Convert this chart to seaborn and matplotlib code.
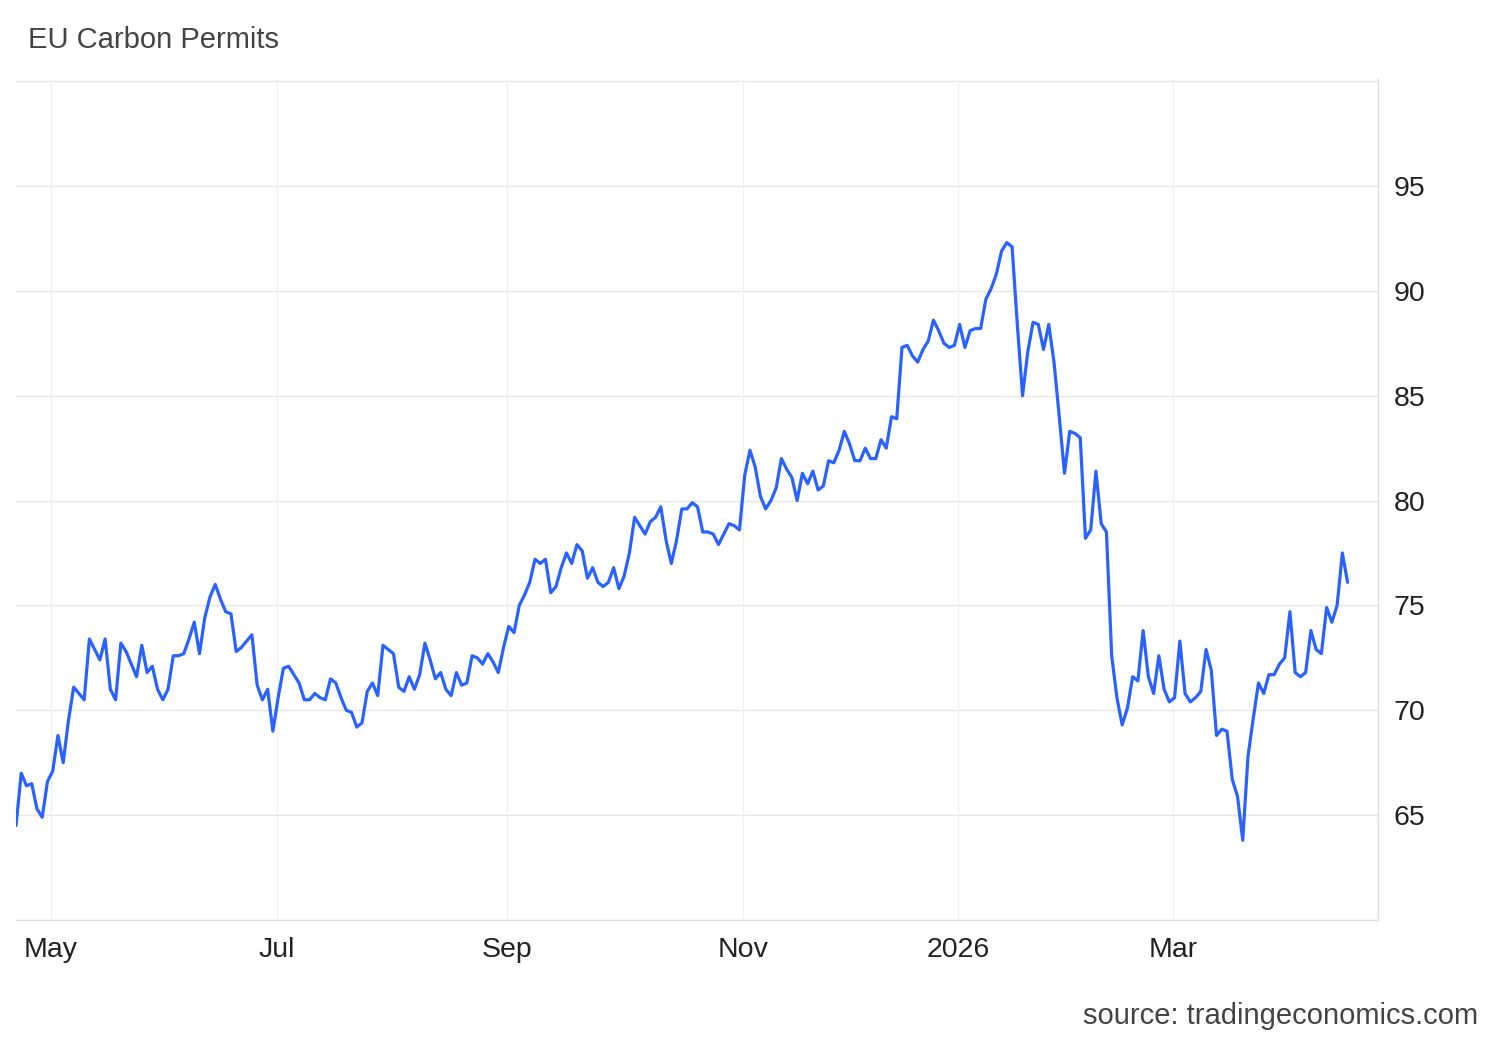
import pandas as pd
import matplotlib.pyplot as plt
import seaborn as sns

# Daily closes (trading days)
start_date = "2025-04-22"
holidays = ["2025-12-25", "2025-12-26", "2026-01-01", "2026-04-03", "2026-04-06"]
prices = [
    64.5, 67.0, 66.4, 66.5, 65.3, 64.9, 66.6, 67.1, 68.8, 67.5,
    69.5, 71.1, 70.8, 70.5, 73.4, 72.9, 72.4, 73.4, 71.0, 70.5,
    73.2, 72.8, 72.2, 71.6, 73.1, 71.8, 72.1, 71.0, 70.5, 71.0,
    72.6, 72.6, 72.7, 73.4, 74.2, 72.7, 74.4, 75.4, 76.0, 75.3,
    74.7, 74.6, 72.8, 73.0, 73.3, 73.6, 71.2, 70.5, 71.0, 69.0,
    70.6, 72.0, 72.1, 71.7, 71.3, 70.5, 70.5, 70.8, 70.6, 70.5,
    71.5, 71.3, 70.6, 70.0, 69.9, 69.2, 69.4, 70.9, 71.3, 70.7,
    73.1, 72.9, 72.7, 71.1, 70.9, 71.6, 71.0, 71.7, 73.2, 72.4,
    71.5, 71.8, 71.0, 70.7, 71.8, 71.2, 71.3, 72.6, 72.5, 72.2,
    72.7, 72.3, 71.8, 73.0, 74.0, 73.7, 75.0, 75.5, 76.1, 77.2,
    77.0, 77.2, 75.6, 75.9, 76.8, 77.5, 77.0, 77.9, 77.6, 76.3,
    76.8, 76.1, 75.9, 76.1, 76.8, 75.8, 76.4, 77.5, 79.2, 78.8,
    78.4, 79.0, 79.2, 79.7, 78.1, 77.0, 78.1, 79.6, 79.6, 79.9,
    79.7, 78.5, 78.5, 78.4, 77.9, 78.4, 78.9, 78.8, 78.6, 81.2,
    82.4, 81.6, 80.2, 79.6, 80.0, 80.6, 82.0, 81.5, 81.1, 80.0,
    81.3, 80.8, 81.4, 80.5, 80.7, 81.9, 81.8, 82.4, 83.3, 82.7,
    81.9, 81.9, 82.5, 82.0, 82.0, 82.9, 82.5, 84.0, 83.9, 87.3,
    87.4, 86.9, 86.6, 87.2, 87.6, 88.6, 88.1, 87.5, 87.3, 87.4,
    88.4, 87.3, 88.1, 88.2, 88.2, 89.6, 90.1, 90.8, 91.9, 92.3,
    92.1, 88.4, 85.0, 87.1, 88.5, 88.4, 87.2, 88.4, 86.6, 84.0,
    81.3, 83.3, 83.2, 83.0, 78.2, 78.6, 81.4, 78.9, 78.5, 72.6,
    70.6, 69.3, 70.1, 71.6, 71.4, 73.8, 71.6, 70.8, 72.6, 71.0,
    70.4, 70.6, 73.3, 70.8, 70.4, 70.6, 70.9, 72.9, 71.9, 68.8,
    69.1, 69.0, 66.7, 65.9, 63.8, 67.8, 69.6, 71.3, 70.8, 71.7,
    71.7, 72.2, 72.5, 74.7, 71.8, 71.6, 71.8, 73.8, 72.9, 72.7,
    74.9, 74.2, 75.0, 77.5, 76.1,
]
y_ticks = [65, 70, 75, 80, 85, 90, 95]
tick_months = ["2025-05", "2025-07", "2025-09", "2025-11", "2026-01", "2026-03"]
tick_labels = ["May", "Jul", "Sep", "Nov", "2026", "Mar"]

trading_days = pd.offsets.CustomBusinessDay(holidays=holidays)
df = pd.DataFrame({
    "date": pd.date_range(start_date, periods=len(prices), freq=trading_days),
    "price": prices,
})
df["idx"] = range(len(df))

# tick at first trading day of each month
tick_pos = [df.loc[df["date"] >= pd.Timestamp(m), "idx"].iloc[0] - 0.3 for m in tick_months]

sns.set_style("white")
plt.rcParams["font.family"] = ["Liberation Sans", "DejaVu Sans"]

fig = plt.figure(figsize=(15, 10.4), dpi=100)
ax = fig.add_axes([16 / 1500, 1 - 920 / 1040, (1378 - 16) / 1500, (920 - 79) / 1040])

sns.lineplot(data=df, x="idx", y="price", ax=ax, color="#2962ff", linewidth=2.3)

ax.set_xlim(0, len(df) - 1 + 5.8)
ax.set_ylim(60, 100.1)

ax.yaxis.tick_right()
ax.set_yticks(y_ticks)
ax.set_xticks(tick_pos)
ax.set_xticklabels(tick_labels)
ax.tick_params(axis="y", length=0, labelsize=20.5, pad=11, labelcolor="#222222")
ax.tick_params(axis="x", length=0, labelsize=20.5, pad=12, labelcolor="#222222")

for y in y_ticks + [100]:
    ax.axhline(y, color="#e6e6e6", linewidth=1, zorder=0)
ax.grid(axis="x", color="#eef0f3", linewidth=1)
ax.set_axisbelow(True)

for side in ["top", "left"]:
    ax.spines[side].set_visible(False)
for side in ["bottom", "right"]:
    ax.spines[side].set_color("#dddddd")
    ax.spines[side].set_linewidth(1)

ax.set_xlabel("")
ax.set_ylabel("")

fig.text(28 / 1500, 1 - 40 / 1040, "EU Carbon Permits", fontsize=21, color="#444444", va="center")
fig.text(1478 / 1500, 1 - 1016 / 1040, "source: tradingeconomics.com", fontsize=21,
         color="#444444", ha="right", va="center")

fig.savefig("out.png", dpi=100)
